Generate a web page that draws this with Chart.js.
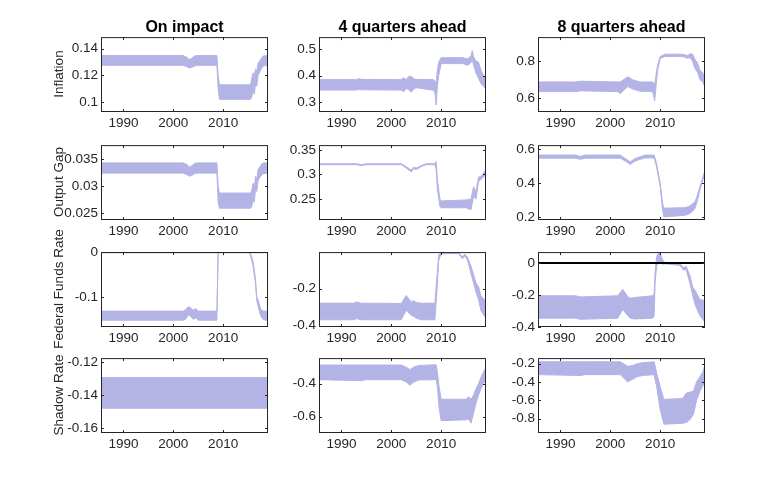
<!DOCTYPE html>
<html>
<head>
<meta charset="utf-8">
<script src="https://cdn.jsdelivr.net/npm/chart.js@4.4.0/dist/chart.umd.min.js"></script>
<style>
  html, body { margin: 0; padding: 0; background: #fff; }
  #wrap { position: relative; width: 779px; height: 488px; overflow: hidden; font-family: "Liberation Sans", Arial, sans-serif; }
  .panel { position: absolute; }
  .col-title { position: absolute; font-weight: bold; font-size: 16px; line-height: 1; color: #000; transform: translate(-50%, -50%); white-space: nowrap; }
  .row-label { position: absolute; font-size: 13.5px; line-height: 1; color: #262626; transform: translate(-50%, -50%) rotate(-90deg); white-space: nowrap; }
</style>
</head>
<body>
<div id="wrap"></div>
<script>
// ---- data ----
const columnTitles = ["On impact", "4 quarters ahead", "8 quarters ahead"];
const rowLabels = ["Inflation", "Output Gap", "Federal Funds Rate", "Shadow Rate"];
const xTicks = [1990, 2000, 2010];

// Inflation, on impact
const infImpactYears = [1985.5, 2002, 2002.75, 2003.25, 2003.75, 2004.25, 2004.75, 2008.75, 2009, 2009.25, 2015.5, 2015.75, 2016, 2016.25, 2016.5, 2016.75, 2017, 2017.5, 2018, 2019];
const infImpactHi = [0.1349, 0.1349, 0.1335, 0.1320, 0.1330, 0.1345, 0.1349, 0.1349, 0.1200, 0.1130, 0.1130, 0.1180, 0.1220, 0.1190, 0.1250, 0.1230, 0.1290, 0.1320, 0.1345, 0.1349];
const infImpactLo = [0.1276, 0.1276, 0.1265, 0.1255, 0.1262, 0.1270, 0.1276, 0.1276, 0.1100, 0.1022, 0.1022, 0.1040, 0.1090, 0.1060, 0.1140, 0.1120, 0.1200, 0.1240, 0.1270, 0.1276];
const infImpactTicks = [0.1, 0.12, 0.14];

// Output gap, on impact
const gapImpactYears = [1985.5, 2002, 2002.75, 2003.25, 2003.75, 2004.25, 2004.75, 2008.75, 2009, 2009.25, 2015.5, 2015.75, 2016, 2016.25, 2016.5, 2016.75, 2017, 2017.5, 2018, 2019];
const gapImpactHi = [0.0343, 0.0343, 0.0340, 0.0335, 0.0338, 0.0342, 0.0343, 0.0343, 0.0300, 0.0287, 0.0287, 0.0292, 0.0305, 0.0298, 0.0318, 0.0312, 0.0330, 0.0338, 0.0343, 0.0343];
const gapImpactLo = [0.0324, 0.0324, 0.0321, 0.0318, 0.0320, 0.0323, 0.0324, 0.0324, 0.0270, 0.0259, 0.0259, 0.0262, 0.0275, 0.0270, 0.0295, 0.0290, 0.0310, 0.0318, 0.0323, 0.0324];
const gapImpactTicks = [0.025, 0.03, 0.035];

// Federal funds rate, on impact
const ffrImpactYears = [1985.5, 2002, 2002.5, 2003, 2003.5, 2004, 2004.5, 2005, 2008.75, 2009, 2015.25, 2015.5, 2016, 2016.5, 2016.75, 2017, 2017.5, 2018, 2018.5, 2019];
const ffrImpactHi = [-0.130, -0.130, -0.127, -0.120, -0.123, -0.128, -0.124, -0.130, -0.130, 0, 0, -0.003, -0.020, -0.060, -0.100, -0.105, -0.125, -0.130, -0.130, -0.130];
const ffrImpactLo = [-0.150, -0.150, -0.148, -0.138, -0.142, -0.148, -0.145, -0.150, -0.150, 0, 0, -0.008, -0.030, -0.070, -0.108, -0.118, -0.140, -0.148, -0.150, -0.150];
const ffrImpactTicks = [-0.1, 0];

// Shadow rate, on impact
const shadowImpactYears = [1985.5, 2019];
const shadowImpactHi = [-0.1294, -0.1294];
const shadowImpactLo = [-0.1480, -0.1480];
const shadowImpactTicks = [-0.16, -0.14, -0.12];

// Inflation, 4 quarters ahead
const inf4Years = [1985.5, 1993, 1993.5, 1994, 2002, 2002.5, 2003, 2003.5, 2004, 2004.5, 2005, 2008.5, 2008.8, 2009, 2009.25, 2009.5, 2010, 2014.5, 2015, 2015.5, 2016, 2016.25, 2016.5, 2017, 2017.5, 2018, 2018.5, 2019];
const inf4Hi = [0.385, 0.385, 0.389, 0.386, 0.385, 0.392, 0.385, 0.397, 0.398, 0.388, 0.386, 0.385, 0.380, 0.370, 0.420, 0.450, 0.467, 0.467, 0.463, 0.465, 0.475, 0.493, 0.470, 0.455, 0.450, 0.420, 0.400, 0.385];
const inf4Lo = [0.346, 0.346, 0.349, 0.347, 0.346, 0.340, 0.352, 0.348, 0.338, 0.350, 0.355, 0.345, 0.330, 0.290, 0.360, 0.400, 0.445, 0.445, 0.440, 0.440, 0.450, 0.460, 0.440, 0.410, 0.390, 0.370, 0.360, 0.350];
const inf4Ticks = [0.3, 0.4, 0.5];

// Output gap, 4 quarters ahead
const gap4Years = [1985.5, 1993, 1994, 1995, 2002, 2003, 2004, 2004.5, 2005, 2006, 2007, 2008.75, 2009, 2009.25, 2009.75, 2010, 2015, 2016, 2016.5, 2017, 2017.5, 2018, 2019];
const gap4Hi = [0.322, 0.322, 0.320, 0.322, 0.322, 0.316, 0.309, 0.315, 0.313, 0.318, 0.322, 0.322, 0.326, 0.290, 0.250, 0.246, 0.248, 0.250, 0.275, 0.265, 0.295, 0.296, 0.310];
const gap4Lo = [0.320, 0.320, 0.318, 0.320, 0.320, 0.313, 0.305, 0.312, 0.310, 0.316, 0.320, 0.320, 0.310, 0.270, 0.235, 0.232, 0.232, 0.228, 0.255, 0.250, 0.285, 0.290, 0.300];
const gap4Ticks = [0.25, 0.3, 0.35];

// Federal funds rate, 4 quarters ahead
const ffr4Years = [1985.5, 1992.5, 1993, 1994, 2002, 2003, 2004, 2004.5, 2005, 2006, 2008.75, 2009.2, 2009.5, 2010, 2013.5, 2014.25, 2014.75, 2015.25, 2016, 2017, 2017.5, 2018, 2019];
const ffr4Hi = [-0.279, -0.279, -0.272, -0.279, -0.280, -0.237, -0.272, -0.265, -0.275, -0.279, -0.279, -0.120, -0.020, -0.005, -0.005, -0.030, -0.015, -0.030, -0.080, -0.170, -0.190, -0.240, -0.270];
const ffr4Lo = [-0.368, -0.368, -0.362, -0.368, -0.368, -0.316, -0.345, -0.350, -0.360, -0.368, -0.368, -0.200, -0.050, -0.012, -0.012, -0.040, -0.025, -0.045, -0.120, -0.220, -0.260, -0.320, -0.360];
const ffr4Ticks = [-0.4, -0.2];

// Shadow rate, 4 quarters ahead
const shadow4Years = [1985.5, 1994, 1995, 2002, 2003, 2003.75, 2004.5, 2005.5, 2009, 2009.25, 2009.6, 2010, 2015, 2015.5, 2016, 2016.5, 2017, 2017.5, 2018, 2018.5, 2019];
const shadow4Hi = [-0.287, -0.287, -0.287, -0.287, -0.300, -0.315, -0.300, -0.290, -0.285, -0.330, -0.420, -0.495, -0.495, -0.480, -0.495, -0.470, -0.430, -0.400, -0.360, -0.330, -0.300];
const shadow4Lo = [-0.376, -0.382, -0.376, -0.376, -0.390, -0.410, -0.390, -0.378, -0.376, -0.420, -0.550, -0.625, -0.620, -0.615, -0.640, -0.580, -0.520, -0.470, -0.430, -0.400, -0.370];
const shadow4Ticks = [-0.6, -0.4];

// Inflation, 8 quarters ahead
const inf8Years = [1985.5, 1993, 1994, 2001.5, 2002, 2003.5, 2004.5, 2006, 2008.5, 2008.9, 2009.2, 2009.5, 2010, 2011, 2014, 2015, 2015.5, 2016, 2016.5, 2017, 2017.5, 2018, 2018.5, 2019];
const inf8Hi = [0.688, 0.688, 0.692, 0.688, 0.688, 0.716, 0.700, 0.688, 0.688, 0.670, 0.730, 0.780, 0.825, 0.838, 0.838, 0.835, 0.830, 0.840, 0.838, 0.810, 0.790, 0.750, 0.740, 0.710];
const inf8Lo = [0.636, 0.636, 0.640, 0.636, 0.625, 0.663, 0.650, 0.638, 0.636, 0.587, 0.670, 0.750, 0.815, 0.826, 0.826, 0.822, 0.815, 0.820, 0.800, 0.760, 0.740, 0.700, 0.690, 0.660];
const inf8Ticks = [0.6, 0.8];

// Output gap, 8 quarters ahead
const gap8Years = [1985.5, 1993, 1994, 1995, 2002, 2003, 2004, 2005, 2006, 2007, 2008.8, 2009.25, 2010, 2010.5, 2010.75, 2015, 2016, 2017, 2017.5, 2018, 2019];
const gap8Hi = [0.565, 0.565, 0.557, 0.565, 0.565, 0.545, 0.525, 0.545, 0.555, 0.565, 0.565, 0.520, 0.400, 0.280, 0.252, 0.255, 0.265, 0.290, 0.330, 0.380, 0.475];
const gap8Lo = [0.547, 0.547, 0.540, 0.547, 0.547, 0.530, 0.510, 0.530, 0.540, 0.548, 0.548, 0.500, 0.380, 0.240, 0.200, 0.210, 0.220, 0.250, 0.300, 0.360, 0.460];
const gap8Ticks = [0.2, 0.4, 0.6];

// Federal funds rate, 8 quarters ahead
const ffr8Years = [1985.5, 1993, 1994, 2001.5, 2002.5, 2003.5, 2004, 2005, 2008.5, 2008.8, 2009, 2009.3, 2009.7, 2010, 2010.5, 2011, 2014, 2014.7, 2015.2, 2016, 2016.5, 2017, 2018, 2018.5, 2019];
const ffr8Hi = [-0.205, -0.205, -0.212, -0.205, -0.165, -0.210, -0.220, -0.215, -0.205, -0.190, -0.050, 0.040, 0.065, 0.060, 0.020, 0.000, -0.005, -0.030, -0.020, -0.080, -0.150, -0.170, -0.230, -0.230, -0.240];
const ffr8Lo = [-0.345, -0.345, -0.352, -0.345, -0.290, -0.330, -0.345, -0.350, -0.345, -0.330, -0.120, -0.020, 0.010, 0.005, -0.008, -0.005, -0.015, -0.045, -0.040, -0.130, -0.200, -0.260, -0.330, -0.350, -0.370];
const ffr8Ticks = [-0.4, -0.2, 0];

// Shadow rate, 8 quarters ahead
const shadow8Years = [1985.5, 1994, 1995, 2002, 2003.5, 2004.5, 2005.5, 2006.5, 2008.8, 2009.3, 2010, 2010.75, 2014.5, 2015.3, 2016, 2016.7, 2017.3, 2018, 2018.5, 2019];
const shadow8Hi = [-0.18, -0.18, -0.18, -0.18, -0.23, -0.22, -0.20, -0.19, -0.18, -0.30, -0.45, -0.59, -0.58, -0.52, -0.51, -0.50, -0.40, -0.34, -0.30, -0.22];
const shadow8Lo = [-0.32, -0.33, -0.32, -0.32, -0.40, -0.37, -0.34, -0.33, -0.32, -0.45, -0.70, -0.86, -0.85, -0.84, -0.81, -0.75, -0.60, -0.50, -0.45, -0.40];
const shadow8Ticks = [-0.8, -0.6, -0.4, -0.2];

// zero reference line (fed funds panels)
const zeroLineYears = [1985.5, 2019];
const zeroLineValues = [0, 0];

// ---- layout ----
const colLeft = [101, 319, 538];
const rowTop = [36, 144, 251, 357];
const plotW = 167, plotH = 76;
const axisW = 50, axisH = 24, padTop = 10, padRight = 10;
const bandColor = "#b3b3e6";
const inkColor = "#262626";
const fontFamily = '"Liberation Sans", Arial, sans-serif';

const panels = [
  { r: 0, c: 0, years: infImpactYears, hi: infImpactHi, lo: infImpactLo, ticks: infImpactTicks, min: 0.0927, max: 0.1487 },
  { r: 1, c: 0, years: gapImpactYears, hi: gapImpactHi, lo: gapImpactLo, ticks: gapImpactTicks, min: 0.0237, max: 0.0376 },
  { r: 2, c: 0, years: ffrImpactYears, hi: ffrImpactHi, lo: ffrImpactLo, ticks: ffrImpactTicks, min: -0.165, max: 0.0, zero: true },
  { r: 3, c: 0, years: shadowImpactYears, hi: shadowImpactHi, lo: shadowImpactLo, ticks: shadowImpactTicks, min: -0.163, max: -0.1176 },
  { r: 0, c: 1, years: inf4Years, hi: inf4Hi, lo: inf4Lo, ticks: inf4Ticks, min: 0.264, max: 0.544 },
  { r: 1, c: 1, years: gap4Years, hi: gap4Hi, lo: gap4Lo, ticks: gap4Ticks, min: 0.207, max: 0.36 },
  { r: 2, c: 1, years: ffr4Years, hi: ffr4Hi, lo: ffr4Lo, ticks: ffr4Ticks, min: -0.407, max: -0.004 },
  { r: 3, c: 1, years: shadow4Years, hi: shadow4Hi, lo: shadow4Lo, ticks: shadow4Ticks, min: -0.70, max: -0.245 },
  { r: 0, c: 2, years: inf8Years, hi: inf8Hi, lo: inf8Lo, ticks: inf8Ticks, min: 0.526, max: 0.93 },
  { r: 1, c: 2, years: gap8Years, hi: gap8Hi, lo: gap8Lo, ticks: gap8Ticks, min: 0.182, max: 0.624 },
  { r: 2, c: 2, years: ffr8Years, hi: ffr8Hi, lo: ffr8Lo, ticks: ffr8Ticks, min: -0.40, max: 0.068, zero: true },
  { r: 3, c: 2, years: shadow8Years, hi: shadow8Hi, lo: shadow8Lo, ticks: shadow8Ticks, min: -0.956, max: -0.14 },
];

// MATLAB-style box with inward ticks on all four sides
const boxFrame = {
  id: "boxFrame",
  afterDraw(chart) {
    const { ctx, chartArea: a, scales } = chart;
    const len = 3;
    ctx.save();
    ctx.strokeStyle = inkColor;
    ctx.lineWidth = 1;
    ctx.strokeRect(a.left + 0.5, a.top + 0.5, a.right - a.left - 1, a.bottom - a.top - 1);
    ctx.beginPath();
    scales.x.ticks.forEach(t => {
      const px = Math.round(scales.x.getPixelForValue(t.value)) + 0.5;
      ctx.moveTo(px, a.bottom); ctx.lineTo(px, a.bottom - len);
      ctx.moveTo(px, a.top); ctx.lineTo(px, a.top + len);
    });
    scales.y.ticks.forEach(t => {
      const py = Math.round(scales.y.getPixelForValue(t.value)) + 0.5;
      ctx.moveTo(a.left, py); ctx.lineTo(a.left + len, py);
      ctx.moveTo(a.right, py); ctx.lineTo(a.right - len, py);
    });
    ctx.stroke();
    ctx.restore();
  }
};

const wrap = document.getElementById("wrap");
const toPoints = (xs, ys) => xs.map((x, i) => ({ x, y: ys[i] }));

panels.forEach(p => {
  const box = document.createElement("div");
  box.className = "panel";
  box.style.left = (colLeft[p.c] - axisW) + "px";
  box.style.top = (rowTop[p.r] - padTop) + "px";
  const canvas = document.createElement("canvas");
  canvas.width = axisW + plotW + padRight;
  canvas.height = padTop + plotH + axisH;
  canvas.style.width = canvas.width + "px";
  canvas.style.height = canvas.height + "px";
  box.appendChild(canvas);
  wrap.appendChild(box);

  const datasets = [
    { data: toPoints(p.years, p.hi), borderColor: bandColor, borderWidth: 1, pointRadius: 0, fill: false },
    { data: toPoints(p.years, p.lo), borderColor: bandColor, borderWidth: 1, pointRadius: 0, fill: "-1", backgroundColor: bandColor },
  ];
  if (p.zero) {
    datasets.push({ data: toPoints(zeroLineYears, zeroLineValues), borderColor: "#000", borderWidth: 2, pointRadius: 0, fill: false, order: -1 });
  }

  new Chart(canvas, {
    type: "line",
    data: { datasets },
    options: {
      responsive: false,
      animation: false,
      events: [],
      layout: { padding: { top: padTop, right: padRight, left: 0, bottom: 0 } },
      plugins: { legend: { display: false }, tooltip: { enabled: false } },
      elements: { line: { tension: 0 } },
      scales: {
        x: {
          type: "linear",
          min: 1985.5,
          max: 2019,
          grid: { display: false, drawTicks: false },
          border: { display: false },
          afterBuildTicks: s => { s.ticks = xTicks.map(v => ({ value: v })); },
          afterFit: s => { s.height = axisH; },
          ticks: { color: inkColor, font: { family: fontFamily, size: 13.5 }, padding: 3, maxRotation: 0, autoSkip: false, callback: v => String(v) },
        },
        y: {
          type: "linear",
          min: p.min,
          max: p.max,
          grid: { display: false, drawTicks: false },
          border: { display: false },
          afterBuildTicks: s => { s.ticks = p.ticks.map(v => ({ value: v })); },
          afterFit: s => { s.width = axisW; },
          ticks: { color: inkColor, font: { family: fontFamily, size: 13.5 }, padding: 3, autoSkip: false, callback: v => String(+v.toFixed(4)) },
        },
      },
    },
    plugins: [boxFrame],
  });
});

columnTitles.forEach((t, c) => {
  const d = document.createElement("div");
  d.className = "col-title";
  d.textContent = t;
  d.style.left = (colLeft[c] + plotW / 2) + "px";
  d.style.top = "27px";
  wrap.appendChild(d);
});

rowLabels.forEach((t, r) => {
  const d = document.createElement("div");
  d.className = "row-label";
  d.textContent = t;
  d.style.left = "59px";
  d.style.top = (rowTop[r] + plotH / 2) + "px";
  wrap.appendChild(d);
});
</script>
</body>
</html>
